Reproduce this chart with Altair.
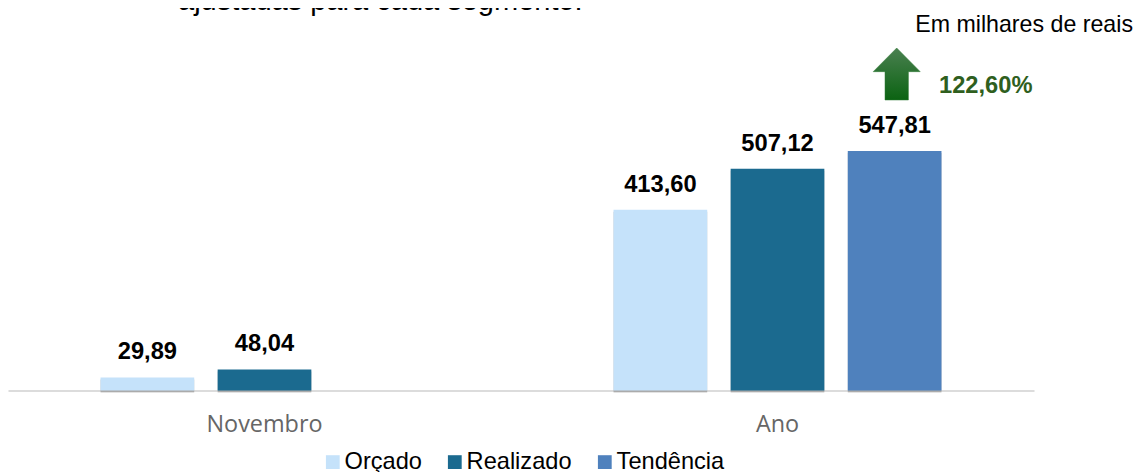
import altair as alt
import pandas as pd

periods = ["Novembro", "Novembro", "Ano", "Ano", "Ano"]
series = ["Orçado", "Realizado", "Orçado", "Realizado", "Tendência"]
values = [29.89, 48.04, 413.60, 507.12, 547.81]
series_order = ["Orçado", "Realizado", "Tendência"]
period_order = ["Novembro", "Ano"]
series_colors = ["#C5E2FA", "#1B6A8F", "#4F81BD"]
Y_MAX = 875

df = pd.DataFrame({"periodo": periods, "serie": series, "valor": values})
df["rotulo"] = [f"{v:.2f}".replace(".", ",") for v in values]

x = alt.X("periodo:N", sort=period_order,
          scale=alt.Scale(domain=period_order, paddingInner=0, paddingOuter=0),
          axis=alt.Axis(title=None, ticks=False, labelAngle=0, labelFont="Open Sans",
                        labelFontSize=23.4, labelColor="#666666", labelPadding=23,
                        domainColor="#DCDCDC", domainWidth=2, grid=False))
xo = alt.XOffset("serie:N", sort=series_order,
                 scale=alt.Scale(domain=series_order, paddingInner=0.2, paddingOuter=0.79))
y = alt.Y("valor:Q", scale=alt.Scale(domain=[0, Y_MAX]), axis=None)

shadow = alt.Chart(df).mark_bar(color="#000000", opacity=0.22, yOffset=2).encode(
    x=x, xOffset=xo, y=y)

bars = alt.Chart(df).mark_bar().encode(
    x=x, xOffset=xo, y=y,
    color=alt.Color("serie:N", sort=series_order,
                    scale=alt.Scale(domain=series_order, range=series_colors),
                    legend=alt.Legend(title=None, orient="none", direction="horizontal",
                                      legendX=313, legendY=442, columns=3,
                                      symbolType="square", symbolSize=190,
                                      symbolStrokeWidth=0, labelOffset=0,
                                      labelFont="Liberation Sans", labelFontSize=23.6,
                                      labelColor="#000000", columnPadding=21, padding=0)),
)

labels = alt.Chart(df).mark_text(font="Liberation Sans", fontWeight="bold", fontSize=23.7,
                                 color="#000000", baseline="middle", dy=-25).encode(
    x=x, xOffset=xo, y=y, text="rotulo:N")

arrow_df = pd.DataFrame({"periodo": ["Ano"], "serie": ["Tendência"], "valor": [724]})
arrow = alt.Chart(arrow_df).mark_point(
    shape="M0.08,-1 L0.984,-0.09 L0.53,-0.09 L0.53,1 L-0.37,1 L-0.37,-0.09 L-0.824,-0.09 Z",
    filled=True, opacity=1, size=2704,
    fill=alt.Gradient(gradient="linear", x1=0, x2=0, y1=0, y2=1,
                      stops=[alt.GradientStop(offset=0, color="#4A8050"),
                             alt.GradientStop(offset=1, color="#0B6312")]),
    stroke="#2E7B34", strokeWidth=0.5,
).encode(x=x, xOffset=xo, y=y)

delta_df = pd.DataFrame({"texto": ["122,60%"]})
delta = alt.Chart(delta_df).mark_text(font="Liberation Sans", fontWeight="bold", fontSize=23.7,
                                      color="#2F5F1E", align="left", baseline="middle").encode(
    x=alt.value(931), y=alt.value(78), text="texto:N")

unit_df = pd.DataFrame({"texto": ["Em milhares de reais"]})
unit = alt.Chart(unit_df).mark_text(font="Liberation Sans", fontSize=23.2, color="#000000",
                                    align="right", baseline="middle").encode(
    x=alt.value(1125), y=alt.value(17), text="texto:N")

top_df = pd.DataFrame({"texto": ["ajustadas para cada segmento."]})
top = alt.Chart(top_df).mark_text(font="Liberation Sans", fontSize=29, color="#000000",
                                  align="left", baseline="alphabetic").encode(
    x=alt.value(170), y=alt.value(2), text="texto:N")

chart = alt.layer(shadow, bars, labels, arrow, delta, unit, top).properties(
    width=1026, height=382.5,
    autosize=alt.AutoSizeParams(type="none"),
    padding={"left": 0, "top": 0, "right": 100, "bottom": 81},
).configure_view(stroke=None)

chart.save("out.html", embed_options={"renderer": "svg", "actions": False})
